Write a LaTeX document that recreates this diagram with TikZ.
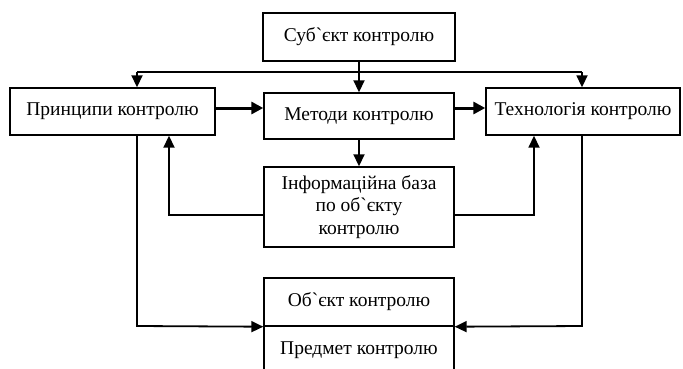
\documentclass[tikz,border=0pt]{standalone}
\usepackage{fontspec}
\setmainfont{Liberation Serif}[Ligatures=TeXOff]
\usetikzlibrary{arrows.meta}
\begin{document}
\begin{tikzpicture}[x=1pt,y=-1pt,
  box/.style={draw,line width=1.4pt,rectangle,inner sep=0pt,anchor=center,
    font=\rmfamily\fontsize{19.5}{22}\selectfont,align=center},
  conn/.style={line width=1.8pt,-{Triangle[length=12pt,width=11pt]}},
  thickconn/.style={line width=3pt,-{Triangle[length=12pt,width=12pt]}},
  plain/.style={line width=1.8pt}]
\useasboundingbox (0,0) rectangle (683,368);
\node[box,minimum width=192pt,minimum height=48pt] (subj) at (359,37) {Суб`єкт контролю};
\node[box,minimum width=205pt,minimum height=47pt] (princ) at (112.5,111.5) {Принципи контролю};
\node[box,minimum width=190pt,minimum height=46pt] (meth) at (359,116) {Методи контролю};
\node[box,minimum width=194pt,minimum height=47pt] (tech) at (583,111.5) {Технологія контролю};
\node[box,minimum width=190pt,minimum height=80pt] (info) at (359,207) {Інформаційна база\\[0.5pt]по об`єкту\\[0.5pt]контролю};
\node[box,minimum width=190pt,minimum height=48pt] (obj) at (359,302) {Об`єкт контролю};
\node[box,minimum width=190pt,minimum height=48pt] (pred) at (359,350) {Предмет контролю};
% branch points
\coordinate (bl) at (137,72);
\coordinate (bm) at (359,72);
\coordinate (br) at (582,72);
\coordinate (il) at (169,215);
\coordinate (ir) at (534,215);
\coordinate (ll) at (137,326);
\coordinate (rr) at (582,326);
\draw[plain] (bl) -- (br);
\draw[conn] (subj.south) -- (meth.north);
\draw[conn] (bl) -- (bl |- princ.north);
\draw[conn] (br) -- (br |- tech.north);
\draw[thickconn] (princ.east |- 0,108) -- (meth.west |- 0,108);
\draw[thickconn] (meth.east |- 0,108) -- (tech.west |- 0,108);
\draw[conn] (meth.south) -- (info.north);
\draw[conn] (info.west |- il) -- (il) -- (il |- princ.south);
\draw[conn] (info.east |- ir) -- (ir) -- (ir |- tech.south);
\draw[conn] (ll |- princ.south) -- (ll) -- (obj.south west);
\draw[conn] (rr |- tech.south) -- (rr) -- (obj.south east);
\end{tikzpicture}
\end{document}
